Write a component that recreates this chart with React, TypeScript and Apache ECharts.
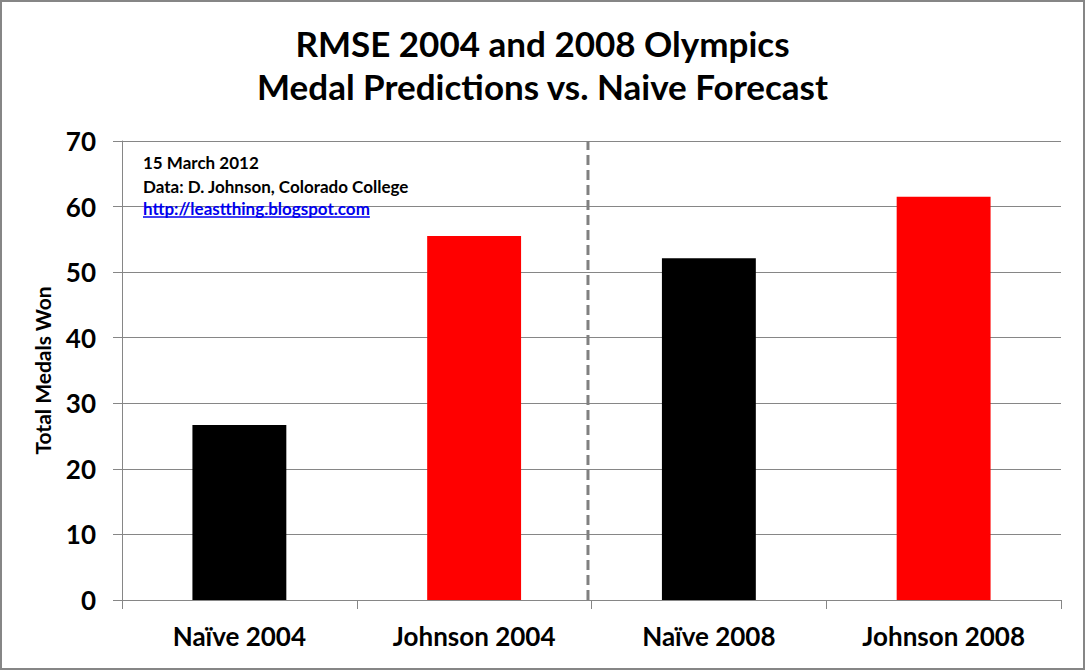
import React, { useEffect, useRef } from "react";
import * as echarts from "echarts";

const categories = ["Naïve 2004", "Johnson 2004", "Naïve 2008", "Johnson 2008"];
const medalValues = [26.7, 55.5, 52.1, 61.5];
const barColors = ["#000000", "#ff0000", "#000000", "#ff0000"];
const yMin = 0;
const yMax = 70;
const yInterval = 10;
const separatorPos = 1.985;
const titleText = "RMSE 2004 and 2008 Olympics\nMedal Predictions vs. Naive Forecast";
const yAxisName = "Total Medals Won";
const noteLines = ["15 March 2012", "Data: D. Johnson, Colorado College"];
const noteLink = "http://leastthing.blogspot.com";

const FONT = "Lato, 'Open Sans', sans-serif";

function measure(text: string, font: string): number {
  const c = document.createElement("canvas").getContext("2d");
  if (!c) return text.length * 8;
  c.font = font;
  return c.measureText(text).width;
}

export default function App() {
  const ref = useRef<HTMLDivElement>(null);
  useEffect(() => {
    if (!ref.current) return;
    const chart = echarts.init(ref.current, null, { renderer: "svg" });
    const noteFont = `bold 17px ${FONT}`;
    const linkW = measure(noteLink, noteFont);
    const noteX = 143;
    const noteY0 = 162;
    const noteDy = 24;
    const option: any = {
      animation: false,
      backgroundColor: "#ffffff",
      title: {
        text: titleText,
        left: "center",
        top: 16,
        textStyle: {
          fontFamily: FONT,
          fontWeight: "bold",
          fontSize: 35,
          lineHeight: 43,
          color: "#000000",
        },
      },
      grid: { left: 122, right: 24, top: 141, bottom: 70 },
      xAxis: [
        {
          type: "category",
          data: categories,
          axisLine: { lineStyle: { color: "#868686", width: 1 } },
          axisTick: { show: true, length: 9, lineStyle: { color: "#868686" } },
          axisLabel: {
            fontFamily: FONT,
            fontWeight: "bold",
            fontSize: 26,
            color: "#000000",
            margin: 23,
          },
        },
        {
          type: "value",
          min: 0,
          max: categories.length,
          show: false,
        },
      ],
      yAxis: {
        type: "value",
        min: yMin,
        max: yMax,
        interval: yInterval,
        name: yAxisName,
        nameLocation: "middle",
        nameGap: 69,
        nameTextStyle: {
          fontFamily: FONT,
          fontWeight: "bold",
          fontSize: 21,
          color: "#000000",
        },
        axisLine: { show: true, lineStyle: { color: "#868686", width: 1 } },
        axisTick: { show: true, length: 9, lineStyle: { color: "#868686" } },
        splitLine: { show: true, lineStyle: { color: "#868686", width: 1 } },
        axisLabel: {
          fontFamily: FONT,
          fontWeight: "bold",
          fontSize: 26,
          color: "#000000",
          margin: 26,
        },
      },
      series: [
        {
          type: "bar",
          barWidth: "40%",
          data: medalValues.map((v, i) => ({
            value: v,
            itemStyle: { color: barColors[i] },
          })),
        },
        {
          type: "line",
          xAxisIndex: 1,
          symbol: "none",
          silent: true,
          lineStyle: { color: "#808080", width: 3, type: [10, 5] },
          data: [
            [separatorPos, yMin],
            [separatorPos, yMax],
          ],
          z: 5,
        },
      ],
      graphic: [
        {
          type: "rect",
          shape: { x: 1, y: 1, width: 1083, height: 668 },
          style: { fill: "none", stroke: "#868686", lineWidth: 2 },
          silent: true,
          z: 100,
        },
        ...noteLines.map((t, i) => ({
          type: "text",
          x: noteX,
          y: noteY0 + i * noteDy,
          style: {
            text: t,
            font: noteFont,
            fill: "#000000",
            verticalAlign: "middle",
          },
          z: 50,
        })),
        {
          type: "text",
          x: noteX,
          y: noteY0 + 2 * noteDy - 2,
          style: {
            text: noteLink,
            font: noteFont,
            fill: "#0000ee",
            verticalAlign: "middle",
          },
          z: 50,
        },
        {
          type: "line",
          shape: {
            x1: noteX,
            y1: noteY0 + 2 * noteDy + 7,
            x2: noteX + linkW,
            y2: noteY0 + 2 * noteDy + 7,
          },
          style: { stroke: "#0000ee", lineWidth: 1.3 },
          z: 50,
        },
      ],
    };
    chart.setOption(option);
    return () => chart.dispose();
  }, []);
  return (
    <div
      ref={ref}
      style={{ position: "fixed", left: 0, top: 0, width: 1085, height: 670, background: "#fff" }}
    />
  );
}
